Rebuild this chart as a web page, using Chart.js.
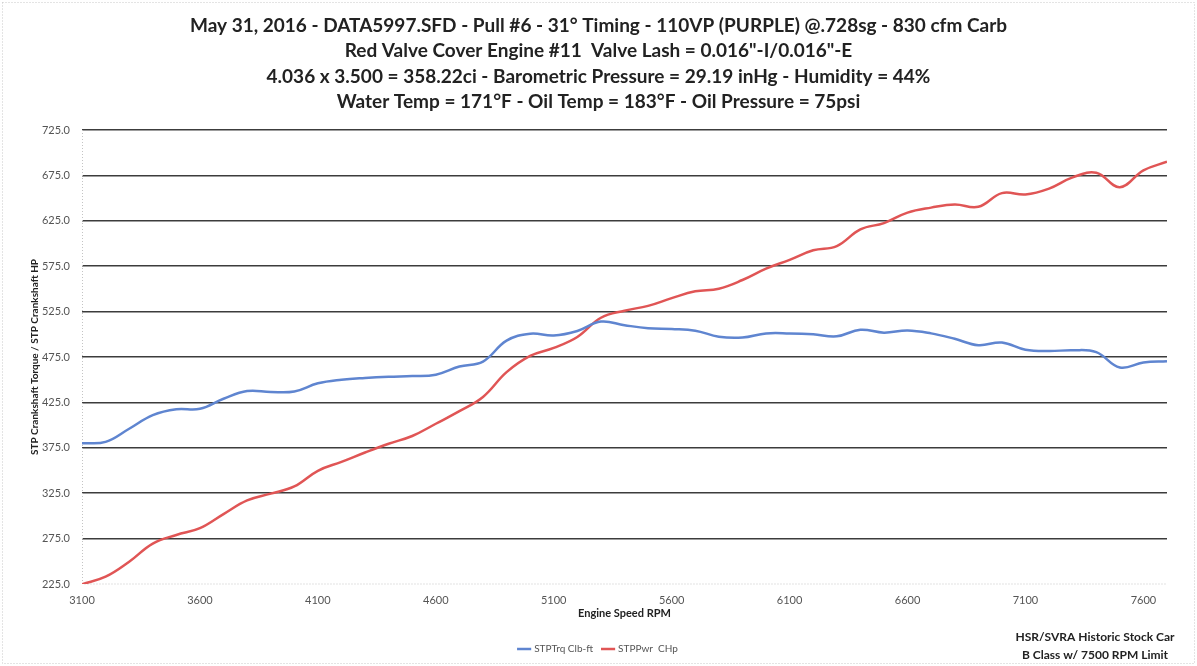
<!DOCTYPE html>
<html>
<head>
<meta charset="utf-8">
<title>Dyno Pull #6</title>
<script src="https://cdn.jsdelivr.net/npm/chart.js@4.4.1/dist/chart.umd.min.js"></script>
<style>
  html, body { margin: 0; padding: 0; background: #fff; }
  canvas { display: block; }
</style>
</head>
<body>
<canvas id="dynoChart" width="1197" height="666"></canvas>
<script>
// Title lines
const titleLines = [
    'May 31, 2016 - DATA5997.SFD - Pull #6 - 31\u00b0 Timing - 110VP (PURPLE) @.728sg - 830 cfm Carb',
    'Red Valve Cover Engine #11  Valve Lash = 0.016"-I/0.016"-E',
    '4.036 x 3.500 = 358.22ci - Barometric Pressure = 29.19 inHg - Humidity = 44%',
    'Water Temp = 171\u00b0F - Oil Temp = 183\u00b0F - Oil Pressure = 75psi'
];
const noteLines = ['HSR/SVRA Historic Stock Car', 'B Class w/ 7500 RPM Limit'];

// Engine speed (RPM)
const rpm = [3100, 3200, 3300, 3400, 3500, 3600, 3700, 3800, 3900, 4000,
             4100, 4200, 4300, 4400, 4500, 4600, 4700, 4800, 4900, 5000,
             5100, 5200, 5300, 5400, 5500, 5600, 5700, 5800, 5900, 6000,
             6100, 6200, 6300, 6400, 6500, 6600, 6700, 6800, 6900, 7000,
             7100, 7200, 7300, 7400, 7500, 7600, 7700];

// STPTrq Clb-ft
const torque = [380, 381.5, 396, 411, 417.5, 418, 429, 437.5, 436.5, 437,
                446, 450, 452, 453.3, 454, 455.5, 464.5, 470, 493, 500.6,
                498.7, 503.7, 514, 510, 506.7, 505.8, 504, 497.4, 496.5, 501,
                501, 500, 497.8, 505, 501.8, 504.2, 501, 495, 488, 491,
                483, 481.5, 482.5, 480.3, 463.5, 469, 470.4];

// STPPwr CHp
const power = [224.7, 233, 249.5, 269.5, 279, 286.5, 302, 317, 324.5, 332.5,
               349.7, 359.5, 369.8, 379.5, 388, 401.5, 415.3, 431, 458.3, 476.2,
               485, 497, 518.2, 526, 531.3, 539.8, 547.3, 550.2, 559.8, 572.3,
               582, 592.5, 597.2, 615.6, 622.5, 634, 639.5, 643, 640.5, 655.5,
               654, 660.5, 672.8, 678, 662, 680.5, 690];

// Axis ticks
const xTicks = [3100, 3600, 4100, 4600, 5100, 5600, 6100, 6600, 7100, 7600];
const yTicks = [225, 275, 325, 375, 425, 475, 525, 575, 625, 675, 725];

const FONT = 'Lato, "Open Sans", sans-serif';

// Dotted axis lines, page frame and the note at bottom right
const notePlugin = {
    id: 'notePlugin',
    beforeDatasetsDraw(chart) {
        const { ctx, chartArea: a } = chart;
        ctx.save();
        ctx.strokeStyle = '#c4c4c4';
        ctx.lineWidth = 1;
        ctx.setLineDash([1, 2]);
        ctx.beginPath();
        ctx.moveTo(a.left + 0.5, a.top);
        ctx.lineTo(a.left + 0.5, a.bottom);
        ctx.lineTo(a.right, a.bottom);
        ctx.stroke();
        ctx.restore();
    },
    afterDraw(chart) {
        const ctx = chart.ctx;
        ctx.save();
        ctx.strokeStyle = '#c8c8c8';
        ctx.setLineDash([1, 2]);
        ctx.lineWidth = 1;
        ctx.strokeRect(2.5, 2.5, chart.width - 5, chart.height - 5);
        ctx.setLineDash([]);
        ctx.fillStyle = '#222';
        ctx.font = 'bold 12px ' + FONT;
        ctx.textAlign = 'center';
        ctx.textBaseline = 'middle';
        ctx.fillText(noteLines[0], 1095, 637);
        ctx.fillText(noteLines[1], 1095, 655);
        ctx.restore();
    }
};

function setupChart() {
    const ctx = document.getElementById('dynoChart').getContext('2d');
    new Chart(ctx, {
        type: 'line',
        data: {
            datasets: [{
                label: 'STPTrq Clb-ft',
                data: rpm.map((r, i) => ({ x: r, y: torque[i] })),
                borderColor: '#5f85d0',
                backgroundColor: '#5f85d0',
                borderWidth: 2.5,
                pointRadius: 0,
                tension: 0.4
            }, {
                label: 'STPPwr  CHp',
                data: rpm.map((r, i) => ({ x: r, y: power[i] })),
                borderColor: '#e05555',
                backgroundColor: '#e05555',
                borderWidth: 2.5,
                pointRadius: 0,
                tension: 0.4
            }]
        },
        options: {
            responsive: false,
            animation: false,
            devicePixelRatio: 1,
            layout: { padding: { left: 0, right: 0, top: 0, bottom: 2 } },
            plugins: {
                title: {
                    display: true,
                    text: titleLines,
                    color: '#222',
                    font: { family: FONT, size: 19, weight: 'bold', lineHeight: 1.342 },
                    padding: { top: 13, bottom: 15 }
                },
                legend: {
                    position: 'bottom',
                    labels: {
                        usePointStyle: true,
                        pointStyle: 'line',
                        boxWidth: 26,
                        color: '#555',
                        font: { family: FONT, size: 10 },
                        padding: 10
                    }
                },
                tooltip: { enabled: false }
            },
            scales: {
                x: {
                    type: 'linear',
                    min: 3100,
                    max: 7700,
                    afterBuildTicks: (axis) => {
                        axis.ticks = xTicks.map(v => ({ value: v }));
                    },
                    afterFit: (scale) => { scale.height = 50; },
                    grid: { display: false, drawTicks: false },
                    border: { display: false },
                    ticks: {
                        padding: 10,
                        maxRotation: 0,
                        color: '#555',
                        font: { family: FONT, size: 11 },
                        callback: (v) => String(v)
                    },
                    title: {
                        display: true,
                        text: 'Engine Speed RPM',
                        color: '#222',
                        font: { family: FONT, size: 11, weight: 'bold' },
                        padding: { top: 0, bottom: 14 }
                    }
                },
                y: {
                    min: 225,
                    max: 725,
                    afterBuildTicks: (axis) => {
                        axis.ticks = yTicks.map(v => ({ value: v }));
                    },
                    afterFit: (scale) => { scale.width = 82; },
                    grid: {
                        drawTicks: false,
                        lineWidth: 1.5,
                        color: (c) => c.tick && c.tick.value === 225 ? 'rgba(0,0,0,0)' : '#3c3c3c'
                    },
                    border: { display: false },
                    ticks: {
                        padding: 12,
                        color: '#555',
                        font: { family: FONT, size: 11 },
                        callback: (v) => Number(v).toFixed(1)
                    },
                    title: {
                        display: true,
                        text: 'STP Crankshaft Torque / STP Crankshaft HP',
                        color: '#222',
                        font: { family: FONT, size: 10, weight: 'bold' },
                        padding: { top: 29, bottom: 0 }
                    }
                },
                // empty right-hand margin so title and legend centre on the page
                yRight: {
                    position: 'right',
                    min: 225,
                    max: 725,
                    afterFit: (scale) => { scale.width = 30; },
                    grid: { display: false, drawTicks: false },
                    border: { display: false },
                    ticks: { display: false }
                }
            }
        },
        plugins: [notePlugin]
    });
}

document.addEventListener('DOMContentLoaded', setupChart);
</script>
</body>
</html>
